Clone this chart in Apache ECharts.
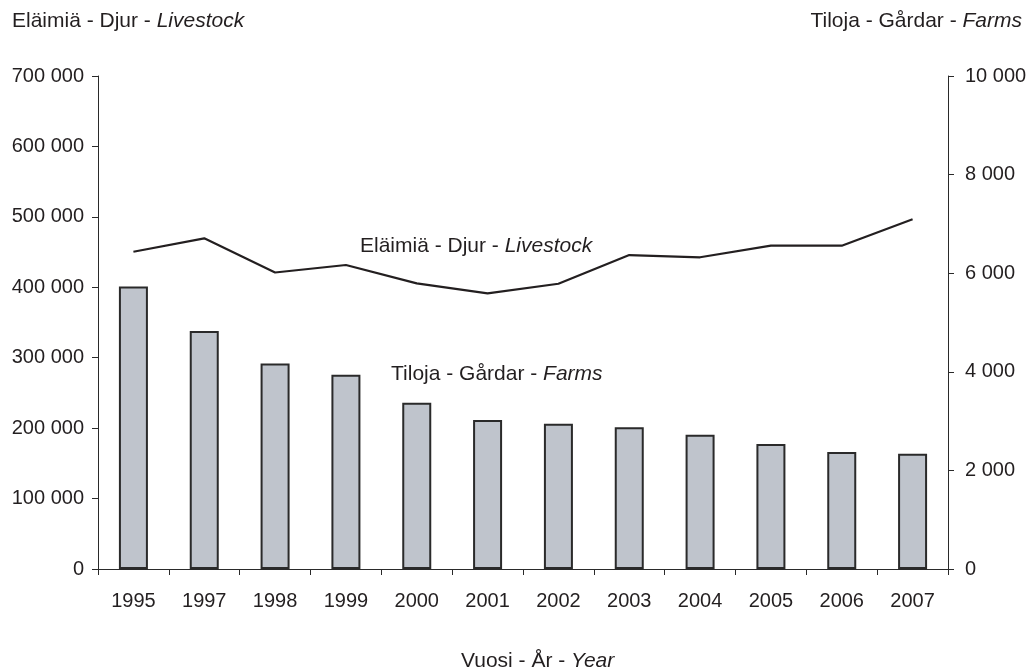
<!DOCTYPE html>
<html>
<head>
<meta charset="utf-8">
<script src="https://cdn.jsdelivr.net/npm/echarts@6/dist/echarts.min.js"></script>
<style>
html,body{margin:0;padding:0;background:#fff;}
#c{width:1030px;height:671px;}
</style>
</head>
<body>
<div id="c"></div>
<script>
var years = ['1995','1997','1998','1999','2000','2001','2002','2003','2004','2005','2006','2007'];
var farms = [5730, 4830, 4170, 3940, 3370, 3020, 2945, 2875, 2725, 2535, 2375, 2340];
var livestock = [450500, 469500, 421000, 431600, 405600, 391400, 405000, 445800, 442600, 459100, 459100, 496500];
var leftTitle = 'Eläimiä - Djur - ';
var leftTitleIt = 'Livestock';
var rightTitle = 'Tiloja - Gårdar - ';
var rightTitleIt = 'Farms';
var xName = 'Vuosi - År - ';
var xNameIt = 'Year';

var FONT = '"Liberation Sans", Arial, sans-serif';
var TXT = '#231f20';
var AX = '#2a2a2a';
function fmt(v){ return String(v).replace(/\B(?=(\d{3})+(?!\d))/g, ' '); }
function rt(pos, parts){
  var g = {
    type: 'text',
    style: {
      text: '{r|' + parts[0] + '}{i|' + parts[1] + '}',
      rich: {
        r: {fontSize: 21, fontFamily: FONT, fill: TXT, color: TXT},
        i: {fontSize: 21, fontFamily: FONT, fontStyle: 'italic', fill: TXT, color: TXT}
      }
    }
  };
  for (var k in pos) g[k] = pos[k];
  return g;
}

var chart = echarts.init(document.getElementById('c'));
chart.setOption({
  animation: false,
  backgroundColor: '#ffffff',
  textStyle: {fontFamily: FONT, color: TXT},
  grid: {left: 98, right: 82, top: 76, bottom: 102},
  xAxis: {
    type: 'category', data: years, boundaryGap: true,
    axisLine: {lineStyle: {color: AX, width: 1}},
    axisTick: {show: true, length: 6, lineStyle: {color: AX}},
    axisLabel: {fontSize: 20, color: TXT, margin: 22, fontFamily: FONT}
  },
  yAxis: [
    {
      type: 'value', min: 0, max: 700000, interval: 100000, position: 'left',
      axisLine: {show: true, lineStyle: {color: AX, width: 1}},
      axisTick: {show: true, length: 6, lineStyle: {color: AX}},
      splitLine: {show: false},
      axisLabel: {fontSize: 20, color: TXT, margin: 14, fontFamily: FONT, formatter: fmt}
    },
    {
      type: 'value', min: 0, max: 10000, interval: 2000, position: 'right',
      axisLine: {show: true, lineStyle: {color: AX, width: 1}},
      axisTick: {show: true, length: 6, lineStyle: {color: AX}},
      splitLine: {show: false},
      axisLabel: {fontSize: 20, color: TXT, margin: 17, fontFamily: FONT, formatter: fmt}
    }
  ],
  series: [
    {
      type: 'bar', yAxisIndex: 1, data: farms, barWidth: 29,
      itemStyle: {color: '#bfc4cc', borderColor: '#2a2a2a', borderWidth: 2}
    },
    {
      type: 'line', yAxisIndex: 0, data: livestock, symbol: 'none',
      lineStyle: {color: '#231f20', width: 2.2}
    }
  ],
  graphic: [
    rt({left: 12, top: 11}, [leftTitle, leftTitleIt]),
    rt({right: 8, top: 11}, [rightTitle, rightTitleIt]),
    rt({left: 360, top: 236}, [leftTitle, leftTitleIt]),
    rt({left: 391, top: 364}, [rightTitle, rightTitleIt]),
    rt({left: 461, top: 651}, [xName, xNameIt])
  ]
});
</script>
</body>
</html>
